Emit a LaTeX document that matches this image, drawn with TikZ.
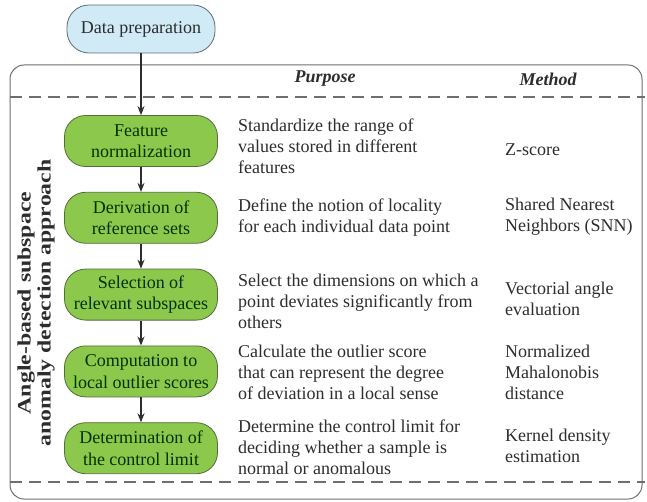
\documentclass[tikz,border=0pt]{standalone}
\usepackage{fontspec}
\setmainfont{Liberation Serif}
\usetikzlibrary{arrows.meta, positioning}

\definecolor{stagegreen}{RGB}{140,200,75}
\definecolor{stageedge}{RGB}{84,108,62}
\definecolor{prepblue}{RGB}{208,234,246}
\definecolor{prepedge}{RGB}{96,106,116}
\definecolor{framegray}{RGB}{110,110,110}
\definecolor{inkgray}{RGB}{45,45,45}

\begin{document}
\begin{tikzpicture}[
    x=1pt, y=-1pt,
    >={Stealth[length=9pt, width=7pt]},
    prep/.style={draw=prepedge, fill=prepblue, rounded corners=22pt,
                 minimum width=148pt, minimum height=48pt, line width=0.8pt,
                 font=\fontsize{18}{21}\selectfont, text=inkgray},
    stage/.style={draw=stageedge, fill=stagegreen, rounded corners=21pt,
                  minimum width=153pt, minimum height=51pt, line width=0.8pt,
                  align=center, inner sep=2pt, text=green!20!black,
                  font=\fontsize{18}{21.5}\selectfont},
    txt/.style={align=left, inner sep=0pt, text=inkgray,
                font=\fontsize{18}{21}\selectfont},
    head/.style={font=\fontsize{18}{21}\selectfont\bfseries\itshape,
                 text=inkgray},
    sidelabel/.style={align=center, rotate=90, xscale=1.25, text=inkgray,
                      font=\fontsize{19}{20}\selectfont\bfseries},
    flow/.style={->, draw=inkgray, line width=1.2pt},
    sep/.style={draw=framegray, line width=1.2pt, dash pattern=on 12pt off 7pt}
  ]
  \useasboundingbox (0,0) rectangle (647,502);

  % outer frame and table rules
  \draw[framegray, line width=1pt, rounded corners=14pt] (10,65) rectangle (642,499);
  \draw[sep] (10,97) -- (645,97);
  \draw[sep] (10,482) -- (645,482);

  \node[head] (purpose) at (325,79) {Purpose};
  \node[head] (method) at (548,79) {Method};

  \node[sidelabel] (approach) at (36,303) {Angle-based subspace\\anomaly detection approach};

  % stages
  \node[prep] (prep) at (141,29) {Data preparation};
  \node[stage] (norm) at (141,141) {Feature\\normalization};
  \node[stage, below=25pt of norm] (refset) {Derivation of\\reference sets};
  \node[stage, below=25pt of refset] (subsp) {Selection of\\relevant subspaces};
  \node[stage, below=25pt of subsp] (score) {Computation to\\local outlier scores};
  \node[stage, below=25pt of score] (limit) {Determination of\\the control limit};

  \draw[flow] (prep) -- (norm);
  \draw[flow] (norm) -- (refset);
  \draw[flow] (refset) -- (subsp);
  \draw[flow] (subsp) -- (score);
  \draw[flow] (score) -- (limit);

  % purpose column
  \node[txt, anchor=west] (p1) at (238,146) {Standardize the range of\\values stored in different\\features};
  \node[txt, anchor=west] (p2) at (238,218) {Define the notion of locality\\for each individual data point};
  \node[txt, anchor=west] (p3) at (238,301) {Select the dimensions on which a\\point deviates significantly from\\others};
  \node[txt, anchor=west] (p4) at (238,372) {Calculate the outlier score\\that can represent the degree\\of deviation in a local sense};
  \node[txt, anchor=west] (p5) at (238,447) {Determine the control limit for\\deciding whether a sample is\\normal or anomalous};

  % method column
  \node[txt, anchor=west] (m1) at (505,150) {Z-score};
  \node[txt, anchor=west] (m2) at (505,217) {Shared Nearest\\Neighbors (SNN)};
  \node[txt, anchor=west] (m3) at (505,299) {Vectorial angle\\evaluation};
  \node[txt, anchor=west] (m4) at (505,372) {Normalized\\Mahalonobis\\distance};
  \node[txt, anchor=west] (m5) at (505,446) {Kernel density\\estimation};
\end{tikzpicture}
\end{document}
